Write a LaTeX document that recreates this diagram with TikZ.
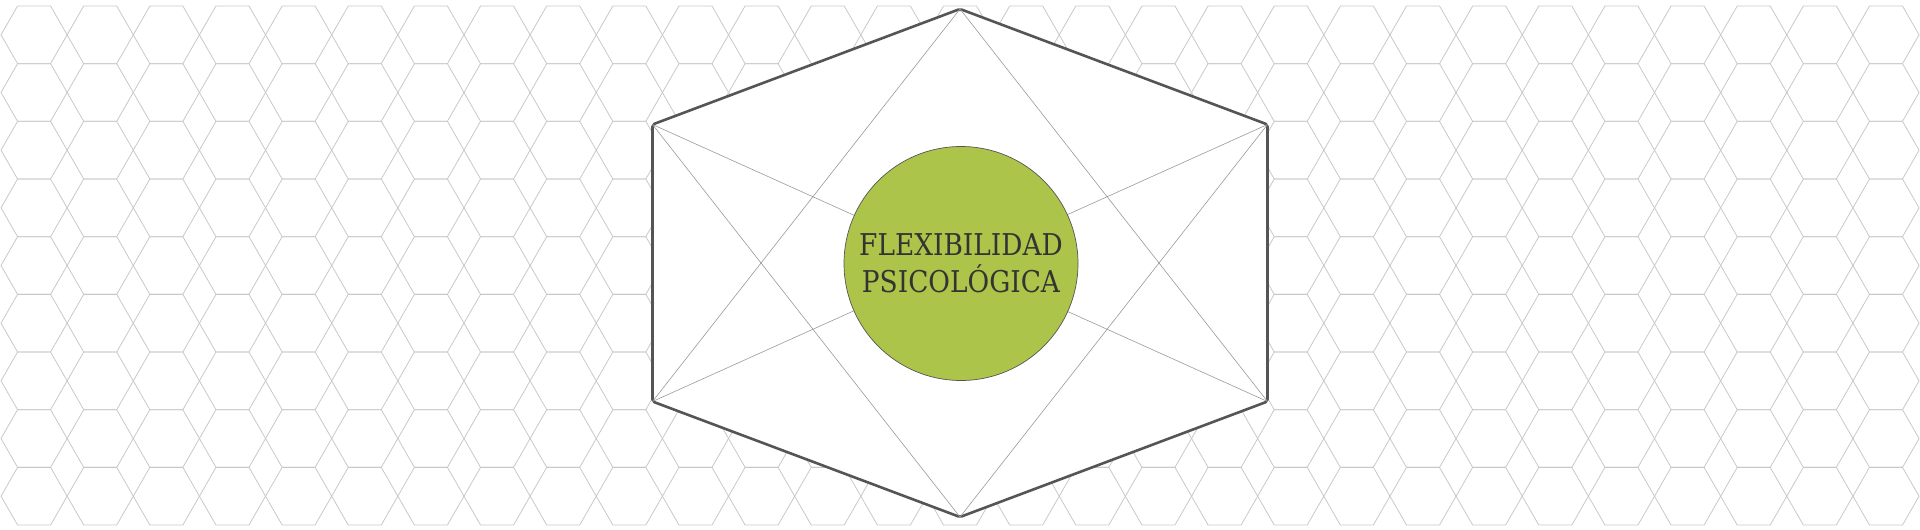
\documentclass[tikz,border=0pt]{standalone}
\usepackage{fontspec}
\setmainfont{DejaVu Serif}[FakeStretch=0.88]
\definecolor{hexgrey}{HTML}{C8C8C8}
\definecolor{framegrey}{HTML}{555555}
\definecolor{spokegrey}{HTML}{9A9A9A}
\definecolor{olive}{HTML}{ADC44A}
\definecolor{ink}{HTML}{333333}
\tikzset{
  cell/.style={draw=hexgrey, line width=0.8pt},
  frame/.style={draw=framegrey, line width=2.6pt, fill=white, rounded corners=2pt, line join=round},
  spoke/.style={draw=spokegrey, line width=0.6pt},
  core/.style={circle, draw=framegrey, line width=0.7pt, fill=olive, minimum size=234pt, inner sep=0pt,
    align=center, text=ink, font=\fontsize{30}{37}\selectfont}
}
\begin{document}
\begin{tikzpicture}[x=1pt,y=-1pt]
  \useasboundingbox (0,0) rectangle (1920,530);
  \foreach \i in {0,...,28}
    \foreach \j in {0,...,8}
      \draw[cell] ({34.07+66.14*\i},{34.83+57.67*\j})
        +(-33.07,0) -- +(-16.5,-28.83) -- +(16.5,-28.83) -- +(33.07,0) -- +(16.5,28.83) -- +(-16.5,28.83) -- cycle;
  \coordinate (top) at (960,9);
  \coordinate (ur) at (1267.5,124.5);
  \coordinate (lr) at (1267.5,401.5);
  \coordinate (bot) at (960,517);
  \coordinate (ll) at (652.5,401.5);
  \coordinate (ul) at (652.5,124.5);
  \draw[frame] (top) -- (ur) -- (lr) -- (bot) -- (ll) -- (ul) -- cycle;
  \begin{scope}[spoke]
    \draw (top) to (ll);
    \draw (top) to (lr);
    \draw (ul) to (bot);
    \draw (ur) to (bot);
    \draw (ul) to (lr);
    \draw (ur) to (ll);
  \end{scope}
  \node[core] (flex) at (961,263.5) {FLEXIBILIDAD\\PSICOLÓGICA};
\end{tikzpicture}
\end{document}
